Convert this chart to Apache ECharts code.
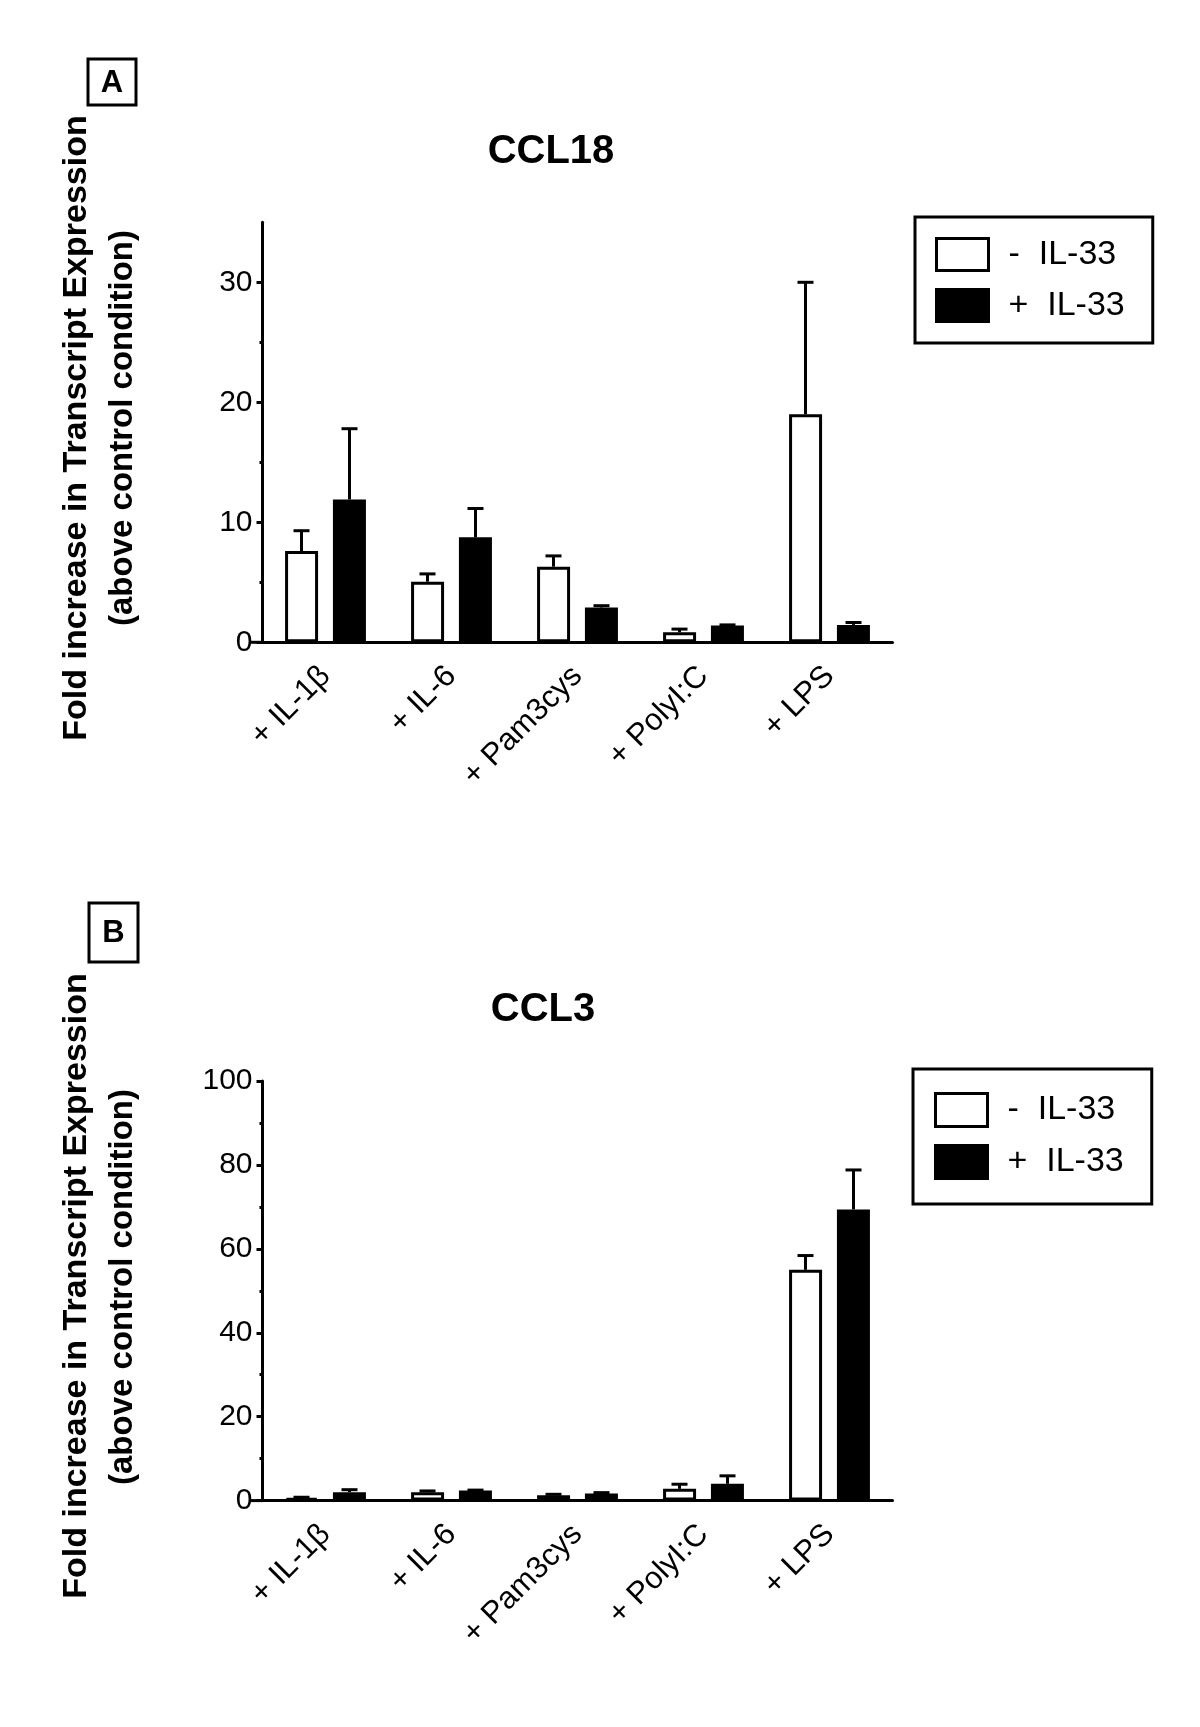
<!DOCTYPE html>
<html>
<head>
<meta charset="utf-8">
<script src="https://cdn.jsdelivr.net/npm/echarts@6/dist/echarts.min.js"></script>
<style>
  html, body { margin: 0; padding: 0; background: #fff; }
  #chart { width: 1200px; height: 1727px; }
</style>
</head>
<body>
<div id="chart"></div>
<script>
const categories = ['+ IL-1β', '+ IL-6', '+ Pam3cys', '+ PolyI:C', '+ LPS'];
const seriesNames = ['-  IL-33', '+  IL-33'];

// CCL18 (panel A): bar means and upper end of the error bar
const ccl18Minus = [7.6, 5.05, 6.3, 0.83, 19.0];
const ccl18MinusTop = [9.3, 5.7, 7.2, 1.1, 30.0];
const ccl18Plus = [11.9, 8.75, 2.9, 1.4, 1.45];
const ccl18PlusTop = [17.8, 11.15, 3.05, 1.45, 1.65];
const ccl18Ticks = [0, 10, 20, 30];

// CCL3 (panel B)
const ccl3Minus = [0.6, 2.0, 1.3, 2.8, 55.0];
const ccl3MinusTop = [0.8, 2.3, 1.5, 3.9, 58.4];
const ccl3Plus = [2.0, 2.4, 1.7, 4.0, 69.4];
const ccl3PlusTop = [2.6, 2.5, 1.9, 5.9, 78.8];
const ccl3Ticks = [0, 20, 40, 60, 80, 100];

const FONT = '"Liberation Sans", Arial, sans-serif';
const BAR_W = 33;
const OFFSET = 24; // half distance between the two bar centres
const CAP = 8;

const chart = echarts.init(document.getElementById('chart'));

function xAxis(gridIndex) {
  return {
    type: 'category', gridIndex, data: categories,
    axisLine: { lineStyle: { color: '#000', width: 3 } },
    axisTick: { alignWithLabel: true, length: 10, lineStyle: { color: '#000', width: 3 } },
    axisLabel: { rotate: 45, margin: 29, color: '#000', fontSize: 31, fontFamily: FONT, interval: 0 }
  };
}

function yAxis(gridIndex, max, interval, ticks) {
  return {
    type: 'value', gridIndex, min: 0, max, interval,
    axisLine: { show: true, lineStyle: { color: '#000', width: 3 } },
    axisTick: { show: true, length: 6, customValues: ticks, lineStyle: { color: '#000', width: 3 } },
    minorTick: { show: true, splitNumber: 2, length: 3, lineStyle: { color: '#000', width: 3 } },
    splitLine: { show: false },
    axisLabel: { color: '#000', fontSize: 30, fontFamily: FONT, margin: 10, customValues: ticks }
  };
}

function barSeries(name, idx, data, fill) {
  return {
    name, type: 'bar', xAxisIndex: idx, yAxisIndex: idx, data,
    barWidth: BAR_W, barGap: '45%',
    itemStyle: { color: fill, borderColor: '#000', borderWidth: 3 },
    emphasis: { disabled: true }
  };
}

function errSeries(idx, vals, tops, side) {
  return {
    type: 'custom', xAxisIndex: idx, yAxisIndex: idx, z: 5, silent: true,
    data: vals.map((v, i) => [i, v, tops[i]]),
    renderItem: (params, api) => {
      const base = api.coord([api.value(0), api.value(1)]);
      const top = api.coord([api.value(0), api.value(2)]);
      const x = base[0] + side * OFFSET;
      const st = { stroke: '#000', lineWidth: 3 };
      return {
        type: 'group',
        children: [
          { type: 'line', shape: { x1: x, y1: base[1], x2: x, y2: top[1] }, style: st },
          { type: 'line', shape: { x1: x - CAP, y1: top[1], x2: x + CAP, y2: top[1] }, style: st }
        ]
      };
    }
  };
}

function legend(top, left, itemHeight, padding) {
  return {
    data: seriesNames, orient: 'vertical', left, top,
    icon: 'rect', itemWidth: 52, itemHeight, itemGap: 16,
    padding, borderColor: '#000', borderWidth: 3,
    itemStyle: { borderColor: '#000', borderWidth: 3 },
    selectedMode: false,
    textStyle: { color: '#000', fontSize: 34, fontFamily: FONT, padding: [0, 0, 0, 15] }
  };
}

function panelText(x, y, text, size, rotation) {
  return {
    type: 'text', x, y, rotation: rotation || 0,
    style: { text, fill: '#000', font: 'bold ' + size + 'px ' + FONT, textAlign: 'center', textVerticalAlign: 'middle' }
  };
}

function letterBox(x, y, w, h, letter) {
  return [
    { type: 'rect', shape: { x, y, width: w, height: h }, style: { fill: 'none', stroke: '#000', lineWidth: 3 } },
    panelText(x + w / 2, y + h / 2 + 1, letter, 31)
  ];
}

// short stub of the x axis line that sticks out left of the y axis
function axisStub(y) {
  return { type: 'line', shape: { x1: 251, y1: y, x2: 263, y2: y }, style: { stroke: '#000', lineWidth: 3 } };
}

const option = {
  animation: false,
  backgroundColor: '#fff',
  grid: [
    { left: 262.5, top: 222.3, width: 630, height: 420 },
    { left: 262.5, top: 1081, width: 630, height: 419.6 }
  ],
  xAxis: [xAxis(0), xAxis(1)],
  yAxis: [yAxis(0, 35, 10, ccl18Ticks), yAxis(1, 100, 20, ccl3Ticks)],
  legend: [
    legend(217, 915, 32, [20, 28, 20, 20]),
    legend(1069, 913, 33, [23, 28, 24, 21])
  ],
  graphic: [
    ...letterBox(88, 59, 48, 46, 'A'),
    ...letterBox(89, 903, 49, 59, 'B'),
    panelText(551, 152, 'CCL18', 40),
    panelText(543, 1010, 'CCL3', 40),
    panelText(77, 428, 'Fold increase in Transcript Expression', 34, Math.PI / 2),
    panelText(123, 428, '(above control condition)', 33, Math.PI / 2),
    panelText(77, 1286, 'Fold increase in Transcript Expression', 34, Math.PI / 2),
    panelText(123, 1287, '(above control condition)', 33, Math.PI / 2),
    axisStub(642.3),
    axisStub(1500.6)
  ],
  series: [
    barSeries(seriesNames[0], 0, ccl18Minus, '#fff'),
    barSeries(seriesNames[1], 0, ccl18Plus, '#000'),
    errSeries(0, ccl18Minus, ccl18MinusTop, -1),
    errSeries(0, ccl18Plus, ccl18PlusTop, 1),
    barSeries(seriesNames[0], 1, ccl3Minus, '#fff'),
    barSeries(seriesNames[1], 1, ccl3Plus, '#000'),
    errSeries(1, ccl3Minus, ccl3MinusTop, -1),
    errSeries(1, ccl3Plus, ccl3PlusTop, 1)
  ]
};

chart.setOption(option);
</script>
</body>
</html>
